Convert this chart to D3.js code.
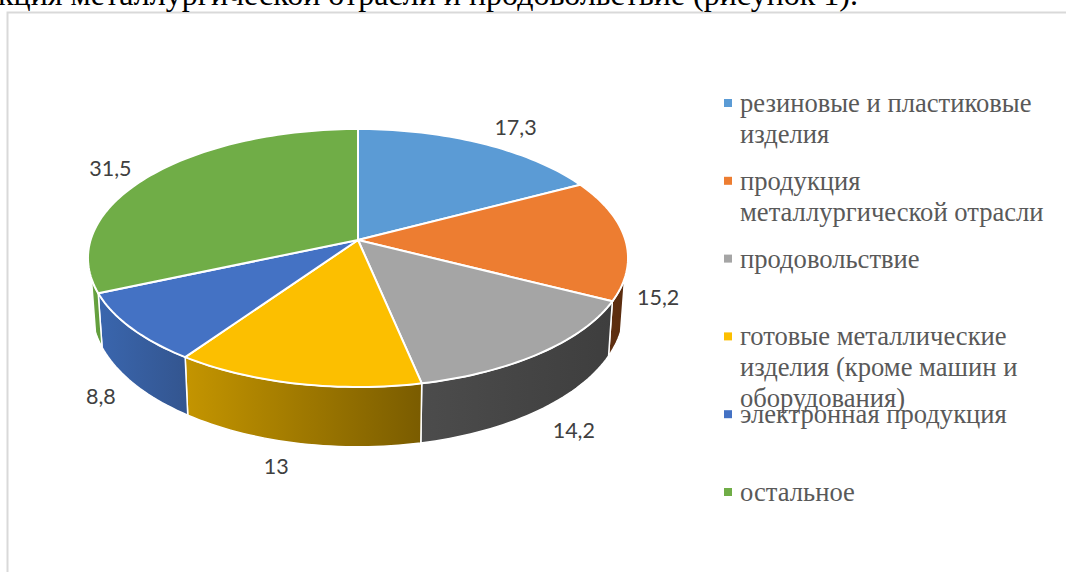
<!DOCTYPE html>
<html>
<head>
<meta charset="utf-8">
<script src="https://cdn.jsdelivr.net/npm/d3@7"></script>
<style>
html, body { margin: 0; padding: 0; background: #fff; overflow: hidden; }
svg { display: block; }
</style>
</head>
<body>
<div id="chart"></div>
<script>
const categories = ["резиновые и пластиковые изделия", "продукция металлургической отрасли", "продовольствие", "готовые металлические изделия (кроме машин и оборудования)", "электронная продукция", "остальное"];
const values = [17.3, 15.2, 14.2, 13, 8.8, 31.5];
const legendLines = [["резиновые и пластиковые", "изделия"], ["продукция", "металлургической отрасли"], ["продовольствие"], ["готовые металлические", "изделия (кроме машин и", "оборудования)"], ["электронная продукция"], ["остальное"]];
const caption = "кция металлургической отрасли и продовольствие (рисунок 1).";

const topColors = ["#5b9bd5", "#ed7d31", "#a5a5a5", "#fcbf00", "#4472c4", "#70ad47"];
const sideLeft = ["#3b6e9c", "#5f2f10", "#4c4c4c", "#c49500", "#3a66ae", "#6aa642"];
const sideRight = ["#3b6e9c", "#5a2c0e", "#3e3e3e", "#7a5c00", "#33558f", "#5f9a3a"];
// nudges from the rim point to the data label, the chart tool places these by hand too
const labelNudge = [[34, -15], [33, 59], [33, 78], [-20, 83], [-30, 69], [-40, -6]];

const svgWidth = 1066, svgHeight = 572;
const svg = d3.select("#chart").append("svg").attr("width", svgWidth).attr("height", svgHeight);
const defs = svg.append("defs");

// frame of the embedded chart
svg.append("path")
    .attr("d", "M7.5,572V12.5H1066")
    .attr("fill", "none")
    .attr("stroke", "#d9d9d9")
    .attr("stroke-width", 2);

svg.append("text")
    .attr("x", -2)
    .attr("y", 5)
    .attr("font-family", "'Liberation Serif'")
    .attr("font-size", 32)
    .attr("fill", "#000")
    .text(caption);

// pie with perspective: near side of the disc is drawn bigger than the far side
const cx = 358, cy = 240, k = 0.1395;
const rx = 267.4, ry = 126.5;
const depth = 51, lowerX = 0.985, lowerY = 1.06;
const sideFrom = 107 * Math.PI / 180, sideTo = 253 * Math.PI / 180;

function rim(a, lower) {
    const u = Math.sin(a), v = -Math.cos(a), w = 1 - k * v;
    const sx = lower ? lowerX : 1, sy = lower ? lowerY : 1;
    return [cx + sx * rx * u / w, cy + (lower ? depth : 0) + sy * ry * v / w];
}
function arcPoints(a0, a1, lower) {
    const n = Math.max(2, Math.ceil((a1 - a0) * 40));
    return d3.range(n + 1).map(i => rim(a0 + (a1 - a0) * i / n, lower));
}
const line = d3.line();

const arcs = d3.pie().sort(null).value(d => d)(values);

// side walls
const sides = svg.append("g");
arcs.forEach((d, i) => {
    const a0 = Math.max(d.startAngle, sideFrom), a1 = Math.min(d.endAngle, sideTo);
    if (a1 <= a0) return;
    const pts = arcPoints(a0, a1, false).concat(arcPoints(a0, a1, true).reverse());
    const xs = d3.extent(pts, p => p[0]);
    const grad = defs.append("linearGradient")
        .attr("id", "side" + i)
        .attr("gradientUnits", "userSpaceOnUse")
        .attr("x1", xs[0]).attr("x2", xs[1])
        .attr("y1", 0).attr("y2", 0);
    grad.append("stop").attr("offset", 0).attr("stop-color", sideLeft[i]);
    grad.append("stop").attr("offset", 1).attr("stop-color", sideRight[i]);
    sides.append("path")
        .attr("d", line(pts) + "Z")
        .attr("fill", "url(#side" + i + ")")
        .attr("stroke", "#fff")
        .attr("stroke-width", 1.5)
        .attr("stroke-linejoin", "round");
});

// top face
svg.append("g").selectAll("path")
    .data(arcs)
    .enter()
    .append("path")
    .attr("d", d => line([[cx, cy]].concat(arcPoints(d.startAngle, d.endAngle, false))) + "Z")
    .attr("fill", (d, i) => topColors[i])
    .attr("stroke", "#fff")
    .attr("stroke-width", 2)
    .attr("stroke-linejoin", "round");

// data labels
svg.append("g").selectAll("text")
    .data(arcs)
    .enter()
    .append("text")
    .attr("x", (d, i) => rim((d.startAngle + d.endAngle) / 2, false)[0] + labelNudge[i][0])
    .attr("y", (d, i) => rim((d.startAngle + d.endAngle) / 2, false)[1] + labelNudge[i][1] + 7)
    .attr("text-anchor", "middle")
    .attr("font-family", "Lato")
    .attr("font-size", 21.5)
    .attr("fill", "#404040")
    .text(d => String(d.value).replace(".", ","));

// legend
const legendY = d3.scalePoint().domain(categories).range([103, 492]);
const legend = svg.append("g").selectAll("g")
    .data(categories)
    .enter()
    .append("g")
    .attr("transform", d => "translate(724," + legendY(d) + ")");

legend.append("rect")
    .attr("y", -4)
    .attr("width", 8)
    .attr("height", 8)
    .attr("fill", (d, i) => topColors[i]);

legend.each(function(d, i) {
    d3.select(this).selectAll("text")
        .data(legendLines[i])
        .enter()
        .append("text")
        .attr("x", 16)
        .attr("y", (t, j) => 9 + j * 31)
        .attr("font-family", "'Liberation Serif'")
        .attr("font-size", 26.6)
        .attr("fill", "#595959")
        .text(t => t);
});
</script>
</body>
</html>
